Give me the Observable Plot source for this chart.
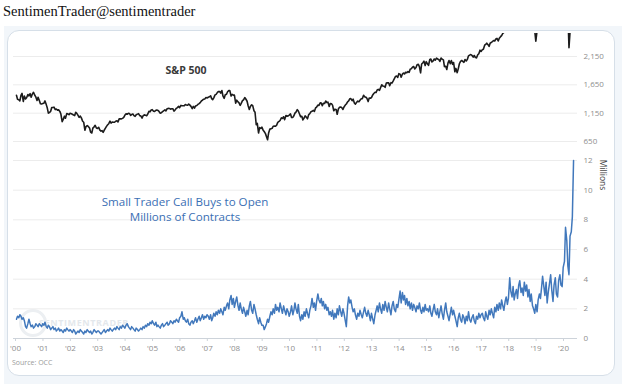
<!DOCTYPE html>
<html><head><meta charset="utf-8">
<script src="https://cdn.jsdelivr.net/npm/d3@7"></script>
<script src="https://cdn.jsdelivr.net/npm/@observablehq/plot@0.6"></script>
<style>
body{margin:0;width:625px;height:384px;position:relative;background:#fff;overflow:hidden;font-family:"Open Sans",sans-serif}
#title{position:absolute;left:3px;top:3px;font:14.5px "Liberation Serif",serif;color:#111}
#outer{position:absolute;left:4px;top:26px;width:618px;height:358px;background:#f2f6fa}
#card{position:absolute;left:7px;top:30px;width:606px;height:344px;border:1px solid #d6dfe8;border-radius:12px;background:#fff}
.plot{position:absolute;left:0}
.ann{position:absolute;white-space:nowrap;transform:translate(-50%,-50%)}
</style></head><body>
<div id="title">SentimenTrader@sentimentrader</div>
<div id="outer"></div>
<div id="card"></div>
<div class="ann" style="left:84px;top:322px;font:bold 9px 'Open Sans';letter-spacing:0.6px;color:#e4e8ec">SENTIMENTRADER</div>
<div style="position:absolute;left:19px;top:309px;width:22px;height:22px;border:3px solid #eceff2;border-radius:50%"></div>
<div id="topPlot" class="plot" style="top:31px"></div>
<div id="botPlot" class="plot" style="top:150px"></div>
<div class="ann" style="left:186px;top:70px;font:bold 10.5px 'Open Sans';color:#3a3a3a">S&amp;P 500</div>
<div class="ann" style="left:185px;top:201px;font:11.6px 'Open Sans';color:#3b6fb4">Small Trader Call Buys to Open</div>
<div class="ann" style="left:185px;top:216px;font:11.6px 'Open Sans';color:#3b6fb4">Millions of Contracts</div>
<div class="ann" style="left:603px;top:175px;font:8.5px 'Open Sans';color:#444;transform:translate(-50%,-50%) rotate(90deg)">Millions</div>
<div style="position:absolute;left:12px;top:358px;font:7px 'Open Sans';color:#9a9a9a">Source: OCC</div>
<script>
// Semi-monthly readings (mid-month, month-end), Jan 2000 – May 2020
const spx = [
1465,1394,1388,1366,1464,1499,1356,1452,1400,1421,1478,1455,1495,1431,1491,1518,1466,1437,1374,1429,1372,1315,1313,1320,
1326,1366,1301,1240,1150,1160,1183,1249,1249,1256,1214,1224,1202,1211,1181,1134,1000,1041,1097,1060,1142,1139,1123,1148,
1138,1130,1116,1107,1166,1147,1111,1077,1097,1067,1007,990,850,912,930,916,889,815,800,886,909,936,889,880,
901,856,834,841,810,848,885,917,946,964,1010,975,994,990,990,1008,1015,996,1050,1051,1050,1058,1075,1112,
1140,1131,1146,1145,1110,1126,1135,1107,1093,1121,1133,1141,1107,1102,1064,1104,1120,1115,1104,1130,1183,1174,1205,1212,
1185,1181,1200,1204,1198,1181,1150,1157,1178,1192,1208,1191,1228,1234,1233,1220,1227,1229,1186,1207,1235,1249,1270,1248,
1287,1280,1280,1281,1303,1295,1290,1311,1292,1270,1230,1270,1240,1277,1285,1304,1320,1336,1366,1378,1396,1401,1425,1418,
1431,1438,1456,1407,1387,1421,1472,1482,1512,1531,1533,1503,1550,1455,1411,1474,1484,1527,1548,1549,1452,1481,1468,1468,
1325,1379,1349,1331,1288,1323,1370,1386,1425,1400,1360,1280,1214,1267,1298,1283,1192,1166,946,969,800,896,880,903,
850,826,789,735,680,798,869,873,882,919,921,919,940,987,1004,1021,1068,1057,1087,1036,1109,1096,1102,1115,
1136,1074,1075,1104,1150,1169,1212,1187,1135,1089,1095,1031,1064,1102,1079,1049,1125,1141,1176,1183,1199,1181,1242,1258,
1293,1286,1332,1327,1281,1326,1320,1364,1337,1345,1268,1321,1316,1292,1193,1219,1216,1131,1224,1253,1258,1247,1216,1258,
1293,1312,1351,1366,1404,1408,1370,1398,1330,1310,1343,1362,1353,1379,1405,1407,1465,1441,1433,1412,1355,1416,1413,1426,
1472,1498,1520,1515,1560,1569,1552,1598,1650,1631,1626,1606,1680,1686,1685,1633,1688,1682,1721,1757,1798,1806,1781,1848,
1838,1783,1840,1859,1841,1872,1864,1884,1870,1924,1937,1960,1973,1931,1955,2003,2011,1972,1862,2018,2039,2068,1990,2059,
2019,1995,2097,2105,2053,2068,2106,2086,2122,2107,2096,2063,2124,2104,2091,1972,1978,1920,2033,2079,2023,2080,2012,2044,
1880,1940,1865,1932,2022,2060,2080,2065,2047,2097,2071,2099,2162,2174,2184,2171,2139,2168,2133,2126,2180,2199,2262,2239,
2271,2279,2349,2364,2385,2363,2328,2384,2400,2412,2433,2423,2459,2470,2425,2472,2500,2519,2557,2575,2585,2648,2676,2674,
2786,2824,2698,2714,2748,2641,2670,2648,2712,2705,2780,2718,2800,2816,2840,2902,2905,2914,2751,2712,2730,2760,2600,2420,
2610,2704,2775,2784,2822,2834,2907,2946,2850,2752,2886,2942,3014,2980,2848,2926,3007,2977,2986,3038,3120,3141,3168,3231,
3289,3226,3380,2954,2305,2585,2790,2912,2863
];
const calls = [
1.3,1.5,1.4,1.6,1.5,1.3,1.4,1.2,0.8,0.7,1.0,1.3,1.0,0.8,0.9,0.7,0.8,1.0,0.9,0.8,1.0,0.9,0.8,1.0,
0.9,1.1,0.8,0.7,0.9,0.8,0.6,0.7,0.8,0.6,0.7,0.5,0.6,0.7,0.5,0.6,0.5,0.4,0.6,0.5,0.7,0.6,0.5,0.6,
0.5,0.4,0.6,0.5,0.3,0.4,0.5,0.4,0.6,0.5,0.4,0.3,0.5,0.4,0.6,0.5,0.4,0.5,0.3,0.4,0.6,0.5,0.4,0.5,
0.5,0.4,0.3,0.4,0.5,0.6,0.4,0.5,0.6,0.5,0.7,0.6,0.5,0.6,0.7,0.6,0.8,0.7,0.6,0.8,0.7,0.9,0.8,0.7,
0.9,1.0,0.8,0.7,0.6,0.8,0.7,0.6,0.5,0.7,0.6,0.5,0.6,0.7,0.6,0.8,0.7,0.9,0.8,1.0,0.9,1.1,1.0,1.2,
1.0,0.9,1.1,0.8,0.9,0.8,0.7,0.9,1.0,0.8,0.9,1.0,1.1,0.9,1.0,1.2,1.1,1.0,1.2,1.1,1.3,1.2,1.1,1.4,
1.5,1.8,1.3,1.4,1.2,1.1,1.3,1.0,0.9,1.1,1.2,1.0,1.2,1.4,1.1,1.3,1.5,1.2,1.4,1.6,1.3,1.5,1.4,1.6,
1.5,1.3,1.6,1.2,1.4,1.7,1.5,1.8,1.6,1.9,1.7,2.0,1.8,1.6,2.1,1.9,2.2,2.4,2.0,2.6,2.9,2.3,2.7,2.1,
2.5,2.8,2.2,1.9,2.4,2.0,1.7,2.1,1.8,1.5,1.9,1.6,2.2,2.5,1.9,1.7,2.3,2.0,1.6,1.3,1.0,1.4,1.1,0.9,
0.9,0.6,0.8,1.0,1.3,1.1,1.5,1.8,1.6,2.0,1.7,2.3,1.9,2.1,1.8,2.4,2.0,1.7,2.2,1.9,1.6,2.0,1.8,1.5,
1.8,2.2,1.6,1.9,2.4,2.0,1.7,2.3,1.5,1.2,1.6,1.3,1.8,1.5,2.0,1.7,1.4,1.9,2.2,2.7,2.1,2.4,1.9,2.5,
3.0,2.6,2.4,2.7,2.2,2.5,2.0,2.3,1.9,2.1,1.6,1.8,1.5,1.9,1.3,1.7,1.4,2.0,1.6,2.2,1.8,1.5,2.0,1.7,
1.2,0.8,2.2,2.8,2.4,2.6,2.1,1.8,2.0,1.6,1.3,1.7,1.5,1.9,1.6,1.4,1.8,2.1,1.7,1.5,1.9,1.6,1.2,1.7,
1.3,1.0,1.6,1.9,2.2,1.8,2.4,2.0,1.7,2.3,1.9,2.5,2.1,1.8,2.4,2.0,1.6,2.2,2.5,2.0,1.8,2.3,2.1,2.6,
3.2,2.4,3.1,2.6,2.9,2.3,2.7,2.2,2.5,2.0,2.4,1.9,2.3,2.1,1.8,2.2,2.0,2.4,1.9,1.7,2.1,1.8,2.3,1.9,
2.0,1.8,2.2,1.7,1.5,1.9,2.3,1.8,1.6,2.0,1.4,1.8,2.2,1.7,1.3,1.9,2.4,1.8,1.5,1.2,1.7,2.1,1.6,1.9,
1.5,1.2,0.8,1.4,1.7,1.3,1.1,1.6,1.4,1.0,1.5,1.2,1.8,1.3,1.1,1.4,1.6,1.2,1.0,1.5,1.3,1.7,1.4,1.6,
1.7,1.4,1.2,1.8,1.5,1.3,1.9,1.6,2.0,1.7,1.4,2.1,1.8,2.3,1.9,2.4,2.0,2.6,2.2,1.9,2.5,2.8,2.3,2.7,
4.1,3.2,2.8,3.5,2.6,3.0,3.3,2.7,3.6,3.9,3.1,3.4,2.9,3.8,3.2,3.6,2.8,3.3,2.5,3.0,2.2,2.0,1.7,2.3,
1.8,2.6,3.0,2.7,3.4,4.2,3.5,2.9,3.8,2.4,3.2,3.7,4.3,3.3,2.5,3.6,4.1,3.0,2.8,3.9,4.3,3.6,3.5,4.8,
5.2,7.5,6.6,4.9,4.3,6.9,7.2,8.2,12.0
];
const firstYear = 2000;
const yearLabels = ["'00","'01","'02","'03","'04","'05","'06","'07","'08","'09","'10","'11","'12","'13","'14","'15","'16","'17","'18","'19","'20"];
const spxTicks = [650, 1150, 1650, 2150];
const callTicks = [0, 2, 4, 6, 8, 10, 12];

const dateAt = i => new Date(Date.UTC(firstYear + Math.floor(i / 24), Math.floor((i % 24) / 2), i % 2 ? 28 : 14));
const spxData = spx.map((v, i) => ({date: dateAt(i), value: v}));
const callData = calls.map((v, i) => ({date: dateAt(i), value: v}));
const yearTicks = yearLabels.map((_, i) => new Date(Date.UTC(firstYear + i, 0, 1)));
const xDomain = [yearTicks[0], yearTicks[yearTicks.length - 1]];
const xRange = [15, 563];
const font = {background: "transparent", fontFamily: "'Open Sans', sans-serif", fontSize: "8px", color: "#8e8e8e", overflow: "visible"};

const topChart = Plot.plot({
  width: 625, height: 120,
  marginLeft: 13, marginRight: 48, marginTop: 2, marginBottom: 5,
  style: font,
  x: {type: "utc", domain: xDomain, range: xRange, axis: null},
  y: {domain: [650, 2150], range: [110, 25], axis: null},
  marks: [
    Plot.gridY(spxTicks, {stroke: "#ececec", strokeOpacity: 1}),
    Plot.axisY(spxTicks, {anchor: "right", label: null, tickSize: 0, tickPadding: 6, tickFormat: d3.format(",")}),
    Plot.lineY(spxData, {x: "date", y: "value", stroke: "#1c1c1c", strokeWidth: 1.6, clip: true})
  ]
});
document.getElementById("topPlot").append(topChart);

const botChart = Plot.plot({
  width: 625, height: 215,
  marginLeft: 13, marginRight: 48, marginTop: 5, marginBottom: 27,
  style: font,
  x: {type: "utc", domain: xDomain, range: xRange},
  y: {domain: [0, 12], range: [188, 10]},
  marks: [
    Plot.gridY(callTicks.slice(1), {stroke: "#ececec", strokeOpacity: 1}),
    Plot.ruleY([0], {stroke: "#cdd3da"}),
    Plot.axisX(yearTicks, {label: null, tickSize: 3, tickPadding: 4, stroke: "#cdd3da",
      tickFormat: d => yearLabels[yearTicks.findIndex(t => +t === +d)]}),
    Plot.axisY(callTicks, {anchor: "right", label: null, tickSize: 0, tickPadding: 6}),
    Plot.lineY(callData, {x: "date", y: "value", stroke: "#4178bc", strokeWidth: 1.5})
  ]
});
document.getElementById("botPlot").append(botChart);
</script>
</body></html>
